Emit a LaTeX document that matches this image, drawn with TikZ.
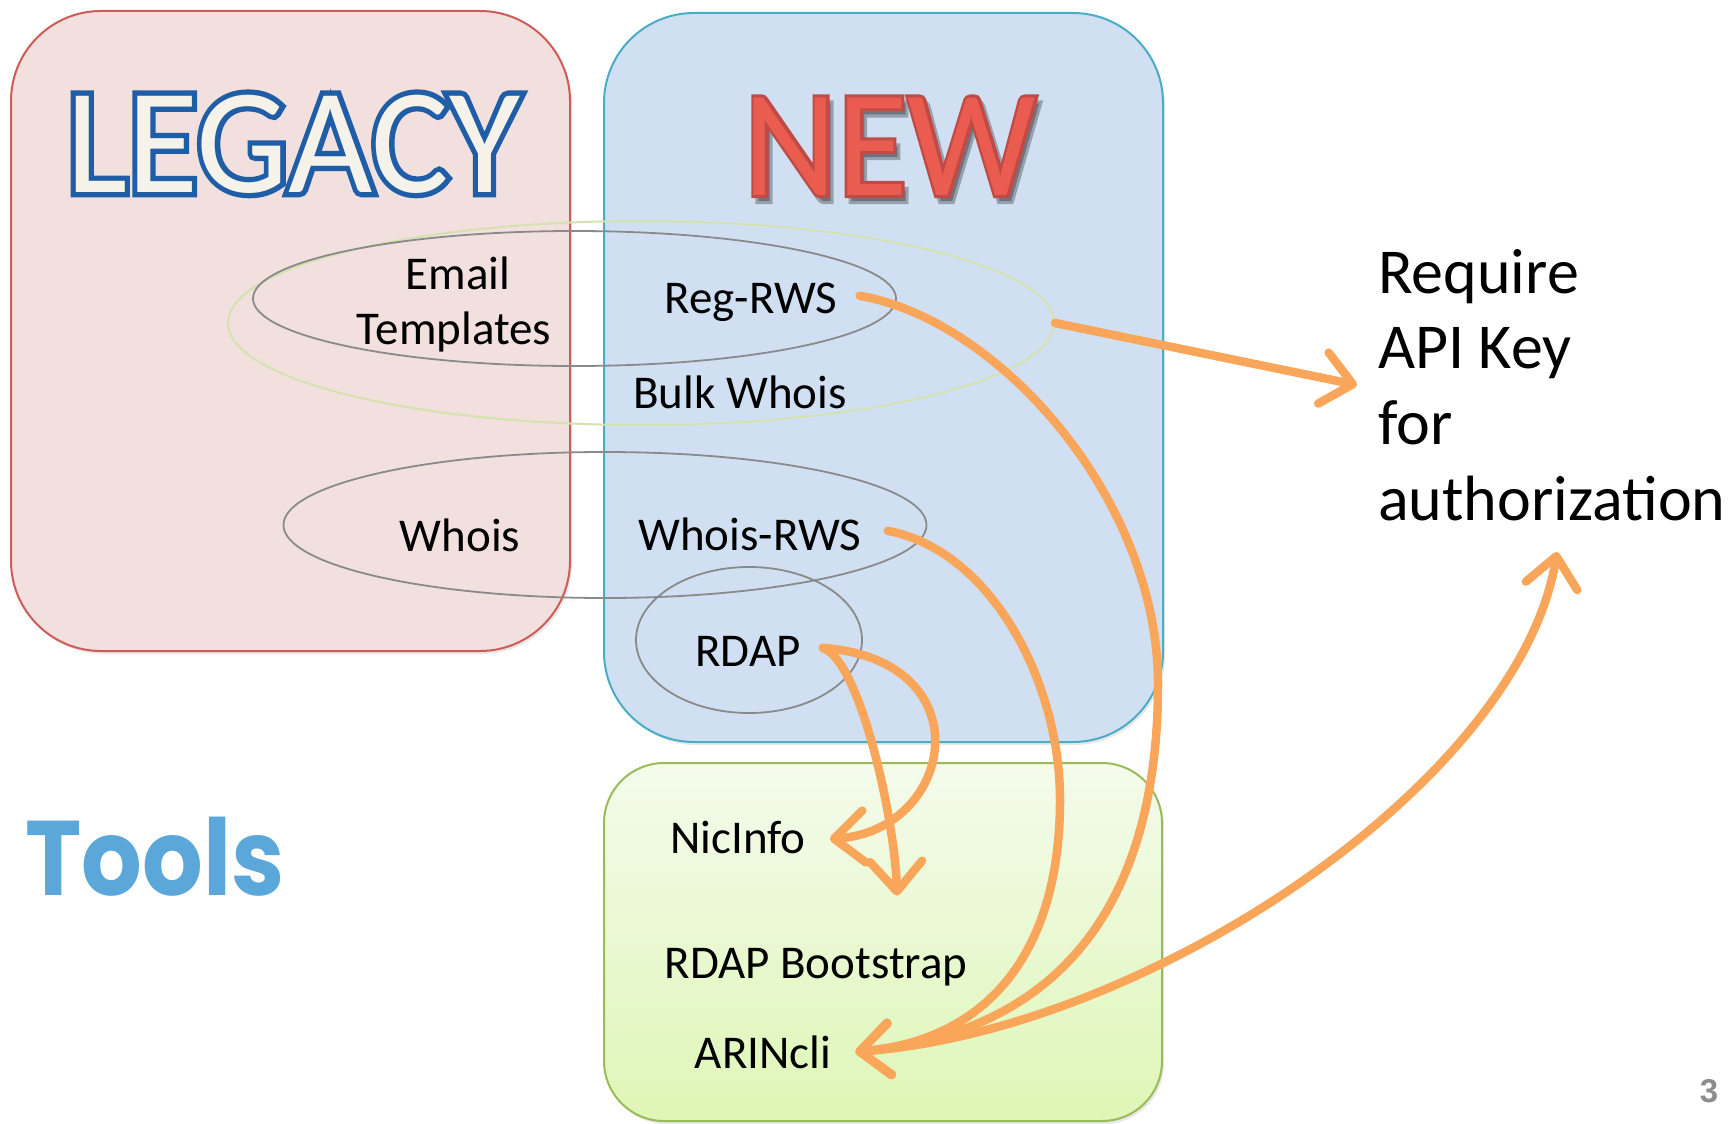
\documentclass[tikz,border=0pt]{standalone}
\usepackage{fontspec}
\setmainfont{Carlito}
\newfontfamily\titleoutfont{Carlito}[FakeBold=7]
\newfontfamily\newoutfont{Carlito}[FakeBold=4]
\newfontfamily\toolsfont{Poppins}
\newfontfamily\numfont{Liberation Sans}
\usetikzlibrary{arrows.meta,shapes.geometric,shadows,calc}
\definecolor{legfill}{HTML}{F2E0DF}
\definecolor{legborder}{HTML}{CD5B58}
\definecolor{newfill}{HTML}{D0E0F2}
\definecolor{newborder}{HTML}{4BACC6}
\definecolor{tooltop}{HTML}{F4FBEC}
\definecolor{toolbot}{HTML}{DEF6B6}
\definecolor{toolborder}{HTML}{9BBB59}
\definecolor{ellgray}{HTML}{8A8A8A}
\definecolor{ellgreen}{HTML}{D4E2B0}
\definecolor{arrorange}{HTML}{F9A65A}
\definecolor{toolsblue}{HTML}{5BA7DA}
\definecolor{legtext}{HTML}{F5F2E9}
\definecolor{legline}{HTML}{1F5EA6}
\definecolor{newtext}{HTML}{EA5B50}
\definecolor{newline}{HTML}{C04A45}
\definecolor{numgray}{HTML}{8C8C8C}
\tikzset{
  panel/.style={rectangle, rounded corners=90pt, line width=2pt, inner sep=0pt,
    drop shadow={opacity=0.18, shadow xshift=2pt, shadow yshift=-3pt}},
  grayell/.style={ellipse, draw=ellgray, line width=1.8pt, inner sep=0pt},
  greenell/.style={ellipse, draw=ellgreen, line width=2pt, inner sep=0pt},
  lbl/.style={font=\fontsize{47}{56}\selectfont, anchor=base, inner sep=2pt, text=black},
  reqtxt/.style={font=\fontsize{64}{76}\selectfont, anchor=base west, inner sep=0pt, text=black},
  legtitle/.style={anchor=base, inner sep=0pt, xscale=0.97, transform shape},
  newtitle/.style={anchor=base, inner sep=0pt, xscale=0.95, transform shape},
  arr/.style={draw=arrorange, line width=8.5pt, line cap=round,
    -{Straight Barb[length=30pt, width=52pt, round]}},
  dblarr/.style={draw=arrorange, line width=8.5pt, line cap=round,
    {Straight Barb[length=30pt, width=52pt, round]}-{Straight Barb[length=30pt, width=52pt, round]}}
}
\begin{document}
\begin{tikzpicture}[x=1pt,y=1pt]
\useasboundingbox (0,0) rectangle (1729,-1124);
% panels
\node[panel, draw=legborder, fill=legfill, minimum width=559pt, minimum height=640pt] (legacy) at (290.5,-331) {};
\node[panel, draw=newborder, fill=newfill, minimum width=559pt, minimum height=729pt] (new) at (883.5,-377.5) {};
\node[panel, rounded corners=60pt, draw=toolborder, top color=tooltop, bottom color=toolbot, minimum width=558pt, minimum height=358pt] (toolbox) at (883,-942) {};
% titles
\coordinate (legpos) at (293,-192);
\node[legtitle, font=\titleoutfont\fontsize{150}{160}\selectfont, text=legline] (legout) at (legpos) {LEGACY};
\node[legtitle, font=\fontsize{150}{160}\selectfont, text=legtext] (legacytitle) at (legpos) {LEGACY};
\coordinate (newpos) at (890,-195);
\node[newtitle, font=\newoutfont\fontsize{152}{160}\selectfont, text=black, opacity=0.28] (newshadow) at ($(newpos)+(4,-6)$) {NEW};
\node[newtitle, font=\newoutfont\fontsize{152}{160}\selectfont, text=newline] (newout) at (newpos) {NEW};
\node[newtitle, font=\fontsize{152}{160}\selectfont, text=newtext] (newtitle) at (newpos) {NEW};
% ellipses
\node[greenell, minimum width=826pt, minimum height=204pt] (bulkgrp) at (641,-323) {};
\node[grayell, minimum width=643pt, minimum height=135pt] (regell) at (574.5,-298.5) {};
\node[grayell, minimum width=643pt, minimum height=146pt] (whoisell) at (605,-525) {};
\node[grayell, minimum width=226pt, minimum height=146pt] (rdapell) at (749,-640) {};
% labels
\node[lbl] (email) at (458,-289) {Email};
\node[lbl] (templates) at (454,-344) {Templates};
\node[lbl] (reg) at (751,-313) {Reg-RWS};
\node[lbl] (bulk) at (740,-408) {Bulk Whois};
\node[lbl] (whois) at (460,-551) {Whois};
\node[lbl] (wrws) at (750,-550) {Whois-RWS};
\node[lbl] (rdap) at (748,-666) {RDAP};
\node[lbl] (nicinfo) at (738,-853) {NicInfo};
\node[lbl] (boot) at (816,-978) {RDAP Bootstrap};
\node[lbl] (arin) at (763,-1068) {ARINcli};
\node[reqtxt] (req1) at (1378,-293) {Require};
\node[reqtxt] (req2) at (1378,-368) {API Key};
\node[reqtxt] (req3) at (1378,-444) {for};
\node[reqtxt] (req4) at (1378,-520) {authorization};
\node[anchor=base, inner sep=0pt, xscale=0.9, transform shape, font=\toolsfont\bfseries\fontsize{106}{110}\selectfont, text=toolsblue] (tools) at (155,-895) {Tools};
\node[anchor=base, inner sep=0pt, font=\numfont\bfseries\fontsize{33}{36}\selectfont, text=numgray] (pagenum) at (1709,-1102) {3};
% arrow end points
\coordinate (apitip) at (1357,-385);
\coordinate (authtip) at (1557,-552);
\coordinate (arintip) at ($(arin.east)+(22,0)$);
\coordinate (regstart) at ($(reg.east)+(20,6)$);
\coordinate (wrwsstart) at ($(wrws.east)+(24,3)$);
\coordinate (rdapstart) at ($(rdap.east)+(20,3)$);
\coordinate (nictip) at ($(nicinfo.east)+(22,-2)$);
\coordinate (boottip) at ($(boot.north)+(81,50)$);
% arrows
\draw[arr] (bulkgrp.east) -- (apitip);
\draw[arr] (regstart) .. controls (1000,-320) and (1158,-500) .. (1158,-684)
  .. controls (1158,-880) and (1080,-1030) .. (arintip);
\draw[arr] (wrwsstart) .. controls (990,-550) and (1060,-680) .. (1060,-800)
  .. controls (1060,-950) and (990,-1040) .. (arintip);
\draw[arr] (rdapstart) .. controls (985,-660) and (955,-830) .. (nictip);
\draw[arr] (rdapstart) .. controls (860,-660) and (895,-820) .. (boottip);
\draw[dblarr] (arintip) .. controls (1150,-1030) and (1520,-780) .. (authtip);
\end{tikzpicture}
\end{document}
